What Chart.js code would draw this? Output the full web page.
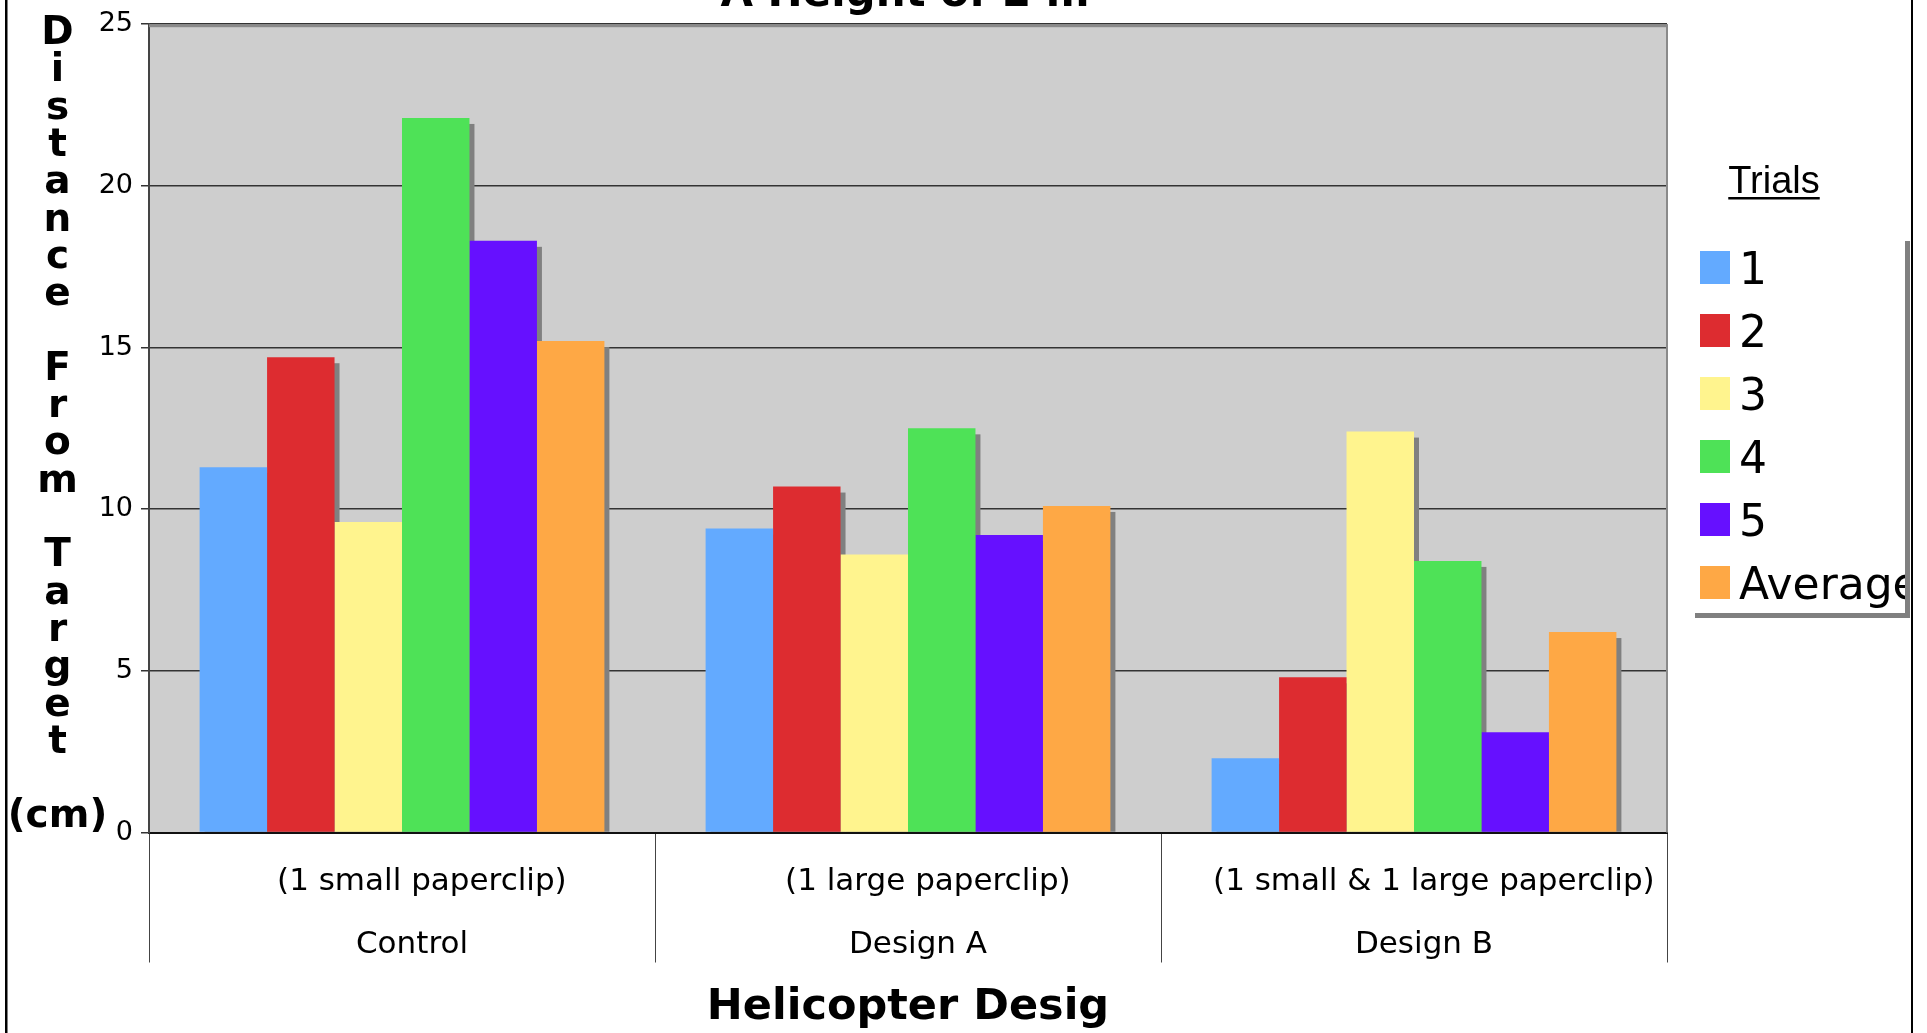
<!DOCTYPE html>
<html>
<head>
<meta charset="utf-8">
<title>Distance From Target by Helicopter Design</title>
<script src="https://cdn.jsdelivr.net/npm/chart.js@4.4.1/dist/chart.umd.min.js"></script>
<style>
  html, body { margin: 0; padding: 0; background: #ffffff; }
  #wrap { width: 1927px; height: 1033px; position: relative; overflow: hidden; }
  canvas { display: block; }
</style>
</head>
<body>
<div id="wrap"><canvas id="chart" width="1927" height="1033"></canvas></div>
<script>
// ---- data ----
const designNotes = ['  (1 small paperclip)', '  (1 large paperclip)', '  (1 small & 1 large paperclip)'];
const designNames = ['Control', 'Design A', 'Design B'];
const seriesNames = ['1', '2', '3', '4', '5', 'Average'];
const trial1  = [11.3, 9.4, 2.3];
const trial2  = [14.7, 10.7, 4.8];
const trial3  = [9.6, 8.6, 12.4];
const trial4  = [22.1, 12.5, 8.4];
const trial5  = [18.3, 9.2, 3.1];
const average = [15.2, 10.1, 6.2];
const yTicks  = [0, 5, 10, 15, 20, 25];

const titleText  = 'A Height of 2 m';
const xTitleText = 'Helicopter Desig';
const yTitleLines = ['D','i','s','t','a','n','c','e','','F','r','o','m','','T','a','r','g','e','t','','(cm)'];
const legendTitle = 'Trials';

// ---- styles ----
const seriesColors = ['#63AAFF', '#DD2C30', '#FFF48E', '#4EE257', '#6610FF', '#FEA845'];
const FONT = '"DejaVu Sans", Verdana, sans-serif';

const seriesValues = [trial1, trial2, trial3, trial4, trial5, average];
const datasets = seriesNames.map((name, i) => ({
  label: name,
  data: seriesValues[i],
  backgroundColor: seriesColors[i],
  borderWidth: 0,
  categoryPercentage: 0.8,
  barPercentage: 1.0
}));

// Grey plot area, bar drop shadows, frame, titles and the boxed legend.
const decorations = {
  id: 'decorations',
  beforeDraw(chart) {
    const { ctx, chartArea: a } = chart;
    ctx.save();
    ctx.fillStyle = '#cecece';
    ctx.fillRect(a.left, a.top, a.right - a.left, a.bottom - a.top);
    ctx.restore();
  },
  beforeDatasetsDraw(chart) {
    const ctx = chart.ctx;
    ctx.save();
    ctx.fillStyle = '#808080';
    chart.data.datasets.forEach((ds, i) => {
      chart.getDatasetMeta(i).data.forEach(bar => {
        const { x, y, base, width } = bar.getProps(['x', 'y', 'base', 'width'], true);
        const h = base - y - 6;
        if (h > 0) ctx.fillRect(x - width / 2 + 5, y + 6, width, h);
      });
    });
    ctx.restore();
  },
  afterDraw(chart) {
    const { ctx, chartArea: a } = chart;
    ctx.save();

    // plot frame (top and right edges)
    ctx.fillStyle = '#8a8a8a';
    ctx.fillRect(a.left, a.top, a.right - a.left + 1, 3);
    ctx.fillRect(a.right - 1, a.top, 2, a.bottom - a.top);

    // outer page rules
    ctx.fillStyle = '#000';
    ctx.fillRect(5, 0, 2.5, chart.height);
    ctx.fillRect(1911, 0, 2, chart.height);

    // chart title (runs off the top edge)
    ctx.fillStyle = '#000';
    ctx.font = 'bold 42px ' + FONT;
    ctx.textAlign = 'center';
    ctx.textBaseline = 'alphabetic';
    ctx.fillText(titleText, 905, 6);

    // stacked y-axis title
    ctx.font = 'bold 39px ' + FONT;
    ctx.textBaseline = 'middle';
    yTitleLines.forEach((s, i) => {
      if (s) ctx.fillText(s, 57.5, 34 + i * 37.3);
    });

    // legend heading
    ctx.font = '38px "Liberation Sans", Arial, sans-serif';
    ctx.textBaseline = 'alphabetic';
    ctx.fillText(legendTitle, 1774, 193);
    const tw = ctx.measureText(legendTitle).width;
    ctx.fillRect(1774 - tw / 2, 197, tw, 2.5);

    // legend box with shadow
    const box = { left: 1690, top: 236, right: 1905, bottom: 613 };
    const bw = box.right - box.left, bh = box.bottom - box.top;
    ctx.fillStyle = '#808080';
    ctx.fillRect(box.left + 5, box.top + 5, bw, bh);
    ctx.fillStyle = '#ffffff';
    ctx.fillRect(box.left, box.top, bw, bh);
    ctx.beginPath();
    ctx.rect(box.left, box.top, bw, bh);
    ctx.clip();
    ctx.font = '44px ' + FONT;
    ctx.textAlign = 'left';
    chart.data.datasets.forEach((ds, i) => {
      const top = 251 + i * 63;
      ctx.fillStyle = ds.backgroundColor;
      ctx.fillRect(1700, top, 30, 33);
      ctx.fillStyle = '#000';
      ctx.fillText(ds.label, 1739, top + 33);
    });
    ctx.restore();
  }
};

Chart.defaults.font.family = FONT;
Chart.defaults.color = '#000';

new Chart(document.getElementById('chart'), {
  type: 'bar',
  data: {
    labels: designNotes.map((n, i) => [n, designNames[i]]),
    datasets
  },
  options: {
    responsive: false,
    animation: false,
    events: [],
    layout: { padding: { top: 22.5, right: 260, bottom: 0, left: 0 } },
    plugins: {
      legend: { display: false },
      title: { display: false },
      tooltip: { enabled: false }
    },
    scales: {
      x: {
        afterFit(scale) { scale.height = 200.5; },
        border: { display: true, color: '#111', width: 2 },
        grid: {
          offset: true,
          drawOnChartArea: false,
          drawTicks: true,
          tickLength: 130,
          color: '#444',
          lineWidth: 1
        },
        ticks: {
          autoSkip: false,
          maxRotation: 0,
          minRotation: 0,
          padding: -112,
          labelOffset: 10,
          color: '#000',
          font: { size: 31, lineHeight: 2.03 }
        },
        title: {
          display: true,
          text: xTitleText,
          color: '#000',
          font: { size: 43, weight: 'bold', lineHeight: 1.2 },
          padding: { top: 0, bottom: -1 }
        }
      },
      y: {
        min: 0,
        max: 25,
        afterFit(scale) { scale.width = 149; },
        afterBuildTicks(scale) { scale.ticks = yTicks.map(v => ({ value: v })); },
        border: { display: true, color: '#444', width: 2 },
        grid: {
          drawOnChartArea: true,
          color: c => (c.tick && c.tick.value === 0) ? 'rgba(0,0,0,0)' : '#333',
          lineWidth: 1.5,
          tickColor: '#333',
          tickLength: 8
        },
        ticks: {
          padding: 8,
          color: '#000',
          font: { size: 27 }
        }
      }
    }
  },
  plugins: [decorations]
});
</script>
</body>
</html>
